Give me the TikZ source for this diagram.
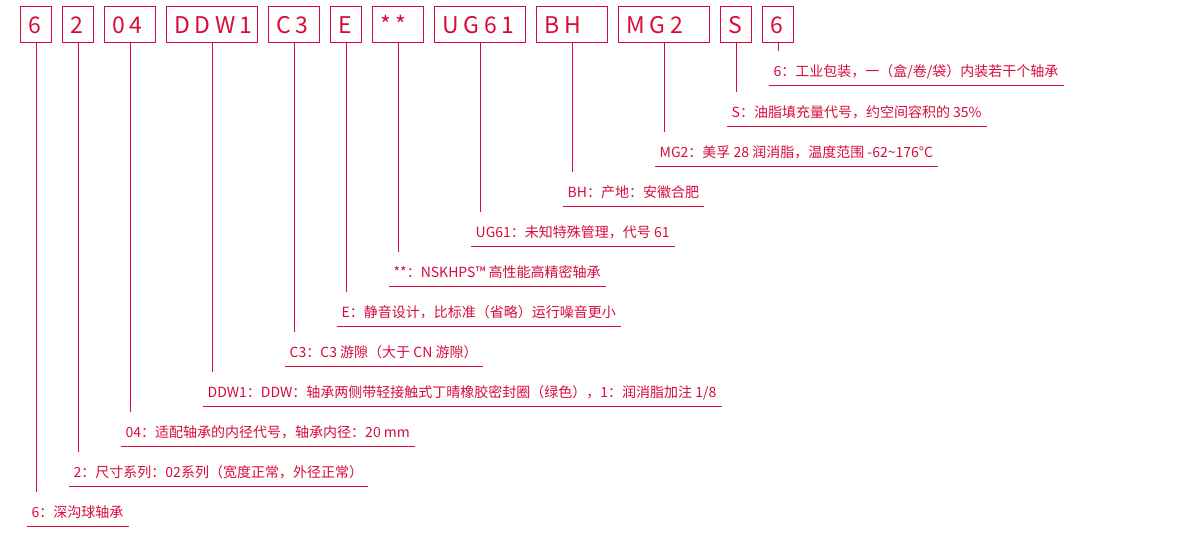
\documentclass[tikz,border=0pt]{standalone}
\usepackage{fontspec}
\setmainfont{Noto Sans CJK SC}
\newfontfamily\boxfont[LetterSpace=20]{Noto Sans CJK SC}
\definecolor{nskred}{RGB}{215,12,60}
\begin{document}
\begin{tikzpicture}[x=1pt,y=-1pt,
  codebox/.style={draw=nskred, line width=1pt, text=nskred,
    font=\boxfont\fontsize{23}{23}\selectfont, anchor=north west,
    minimum height=36pt, inner xsep=8pt, inner ysep=0pt,
    text height=17pt, text depth=0pt, align=left},
  lab/.style={text=nskred, font=\fontsize{14}{14}\selectfont,
    anchor=south west, inner xsep=5pt, inner ysep=0pt,
    text height=26pt, text depth=8pt},
  uline/.style={draw=nskred, line width=1pt},
  lead/.style={draw=nskred, line width=1pt}]
\useasboundingbox (0,0) rectangle (1193,536);
% code boxes
\node[codebox, text width=15pt] (b1)  at (20,6)  {6};
\node[codebox, text width=15pt] (b2)  at (62,6)  {2};
\node[codebox, text width=35pt] (b3)  at (104,6) {04};
\node[codebox, text width=75pt] (b4)  at (166,6) {DDW1};
\node[codebox, text width=35pt] (b5)  at (268,6) {C3};
\node[codebox, text width=15pt] (b6)  at (330,6) {E};
\node[codebox, text width=35pt] (b7)  at (372,6) {**};
\node[codebox, text width=75pt] (b8)  at (434,6) {UG61};
\node[codebox, text width=55pt] (b9)  at (536,6) {BH};
\node[codebox, text width=75pt] (b10) at (618,6) {MG2};
\node[codebox, text width=15pt] (b11) at (720,6) {S};
\node[codebox, text width=15pt] (b12) at (762,6) {6};
% labels
\node[lab] (l12) at (768.5,85)  {6：工业包装，一（盒/卷/袋）内装若干个轴承};
\node[lab] (l11) at (726.5,126) {S：油脂填充量代号，约空间容积的 35\%};
\node[lab] (l10) at (654.5,166) {MG2：美孚 28 润消脂，温度范围 -62\textasciitilde176°C};
\node[lab] (l9)  at (562.5,206) {BH：产地：安徽合肥};
\node[lab] (l8)  at (470.5,246) {UG61：未知特殊管理，代号 61};
\node[lab] (l7)  at (388.5,286) {**：NSKHPS™ 高性能高精密轴承};
\node[lab] (l6)  at (336.5,326) {E：静音设计，比标准（省略）运行噪音更小};
\node[lab] (l5)  at (284.5,366) {C3：C3 游隙（大于 CN 游隙）};
\node[lab] (l4)  at (202.5,406) {DDW1：DDW：轴承两侧带轻接触式丁晴橡胶密封圈（绿色），1：润消脂加注 1/8};
\node[lab] (l3)  at (120.5,446) {04：适配轴承的内径代号，轴承内径：20 mm};
\node[lab] (l2)  at (68.5,486)  {2：尺寸系列：02系列（宽度正常，外径正常）};
\node[lab] (l1)  at (26.5,526)  {6：深沟球轴承};
% underlines and leaders
\foreach \i in {1,...,12}{
  \draw[uline] (l\i.south west) -- (l\i.south east);
  \draw[lead] (b\i.south) -- (b\i.south |- l\i.north);
}
\end{tikzpicture}
\end{document}
